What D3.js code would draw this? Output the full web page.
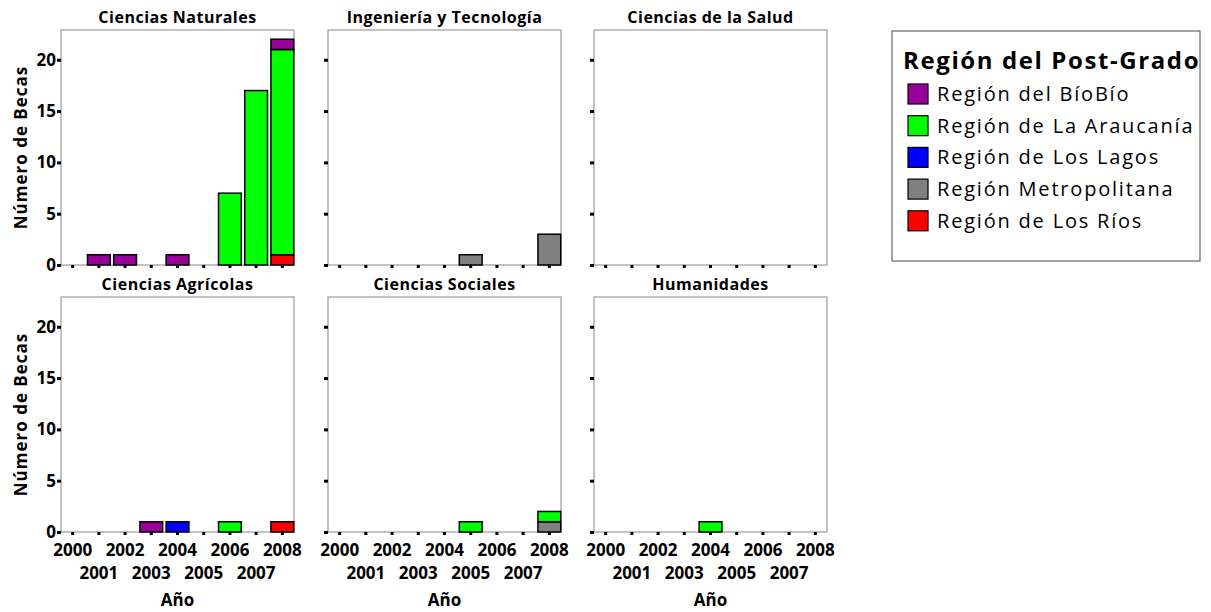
<!DOCTYPE html>
<html><head><meta charset="utf-8">
<script src="https://cdn.jsdelivr.net/npm/d3@7"></script>
<style>
body{margin:0;background:#fff;}
text{font-family:"Open Sans",sans-serif;fill:#000;}
</style></head>
<body><svg id="c" width="1211" height="612"></svg>
<script>
const years = [2000, 2001, 2002, 2003, 2004, 2005, 2006, 2007, 2008];
const regions = ["Región del BíoBío", "Región de La Araucanía", "Región de Los Lagos", "Región Metropolitana", "Región de Los Ríos"];
const regionColors = ["#990099", "#00ff00", "#0000ff", "#808080", "#ff0000"];
const panelTitles = ["Ciencias Naturales", "Ingeniería y Tecnología", "Ciencias de la Salud", "Ciencias Agrícolas", "Ciencias Sociales", "Humanidades"];
const yTicks = [0, 5, 10, 15, 20];
// values per region (rows, legend order) by year (columns)
const naturales   = [[0,1,1,0,1,0,0,0,1],[0,0,0,0,0,0,7,17,20],[0,0,0,0,0,0,0,0,0],[0,0,0,0,0,0,0,0,0],[0,0,0,0,0,0,0,0,1]];
const ingenieria  = [[0,0,0,0,0,0,0,0,0],[0,0,0,0,0,0,0,0,0],[0,0,0,0,0,0,0,0,0],[0,0,0,0,0,1,0,0,3],[0,0,0,0,0,0,0,0,0]];
const salud       = [[0,0,0,0,0,0,0,0,0],[0,0,0,0,0,0,0,0,0],[0,0,0,0,0,0,0,0,0],[0,0,0,0,0,0,0,0,0],[0,0,0,0,0,0,0,0,0]];
const agricolas   = [[0,0,0,1,0,0,0,0,0],[0,0,0,0,0,0,1,0,0],[0,0,0,0,1,0,0,0,0],[0,0,0,0,0,0,0,0,0],[0,0,0,0,0,0,0,0,1]];
const sociales    = [[0,0,0,0,0,0,0,0,0],[0,0,0,0,0,1,0,0,1],[0,0,0,0,0,0,0,0,0],[0,0,0,0,0,0,0,0,1],[0,0,0,0,0,0,0,0,0]];
const humanidades = [[0,0,0,0,0,0,0,0,0],[0,0,0,0,1,0,0,0,0],[0,0,0,0,0,0,0,0,0],[0,0,0,0,0,0,0,0,0],[0,0,0,0,0,0,0,0,0]];
const panelData = [naturales, ingenieria, salud, agricolas, sociales, humanidades];

const svg = d3.select("#c");
const lefts = [61, 328, 594], tops = [30, 297], pw = 233, ph = 235;
const x = d3.scaleBand().domain(years).range([0, pw]).paddingInner(0.13).paddingOuter(0.01);
const y = d3.scaleLinear().domain([0, 22.9]).range([ph, 0]);
const color = d3.scaleOrdinal().domain(regions).range(regionColors);
const stackKeys = regions.slice().reverse();

panelData.forEach((vals, i) => {
  const col = i % 3, row = Math.floor(i / 3);
  const g = svg.append("g").attr("transform", `translate(${lefts[col]},${tops[row]})`);
  const rows = years.map((yr, j) => { const o = {year: yr}; regions.forEach((r, k) => o[r] = vals[k][j]); return o; });
  const series = d3.stack().keys(stackKeys)(rows);
  g.append("rect").attr("width", pw).attr("height", ph).attr("fill", "none").attr("stroke", "#999").attr("stroke-width", 1.2);
  series.forEach(s => {
    g.selectAll(null).data(s.filter(d => d[1] - d[0] > 0)).enter().append("rect")
      .attr("x", d => x(d.data.year)).attr("width", x.bandwidth())
      .attr("y", d => y(d[1])).attr("height", d => y(d[0]) - y(d[1]))
      .attr("fill", color(s.key)).attr("stroke", "#000").attr("stroke-width", 1.5);
  });
  const ya = g.append("g").call(d3.axisLeft(y).tickValues(yTicks).tickSize(4).tickFormat(col === 0 ? d3.format("d") : ""));
  ya.select(".domain").remove();
  ya.selectAll(".tick line").attr("stroke", "#000").attr("stroke-width", 3);
  ya.selectAll(".tick text").attr("x", -5).style("font-size", "17px").style("font-weight", "bold").style("font-family", "Open Sans");
  const xa = g.append("g").attr("transform", `translate(0,${ph})`).call(d3.axisBottom(x).tickSize(3).tickFormat(""));
  xa.select(".domain").remove();
  xa.selectAll(".tick line").attr("stroke", "#000").attr("stroke-width", 3);
  if (row === 1) {
    g.selectAll(".yl").data(years).enter().append("text")
      .attr("x", d => x(d) + x.bandwidth() / 2)
      .attr("y", (d, j) => ph + (j % 2 === 0 ? 24 : 47))
      .attr("text-anchor", "middle").style("font-size", "17px").style("font-weight", "bold").text(d => d);
    g.append("text").attr("x", pw / 2).attr("y", ph + 74).attr("text-anchor", "middle")
      .style("font-size", "17px").style("font-weight", "bold").text("Año");
  }
  if (col === 0) {
    g.append("text").attr("transform", `translate(-34,${ph / 2}) rotate(-90)`).attr("text-anchor", "middle")
      .style("font-size", "17px").style("font-weight", "bold").style("letter-spacing", "1px").text("Número de Becas");
  }
  g.append("text").attr("x", pw / 2).attr("y", -7).attr("text-anchor", "middle")
    .style("font-size", "16px").style("font-weight", "bold").style("letter-spacing", "0.5px").text(panelTitles[i]);
});

const lg = svg.append("g").attr("transform", "translate(892,31)");
lg.append("rect").attr("width", 308).attr("height", 230).attr("fill", "#fff").attr("stroke", "#666").attr("stroke-width", 1.2);
lg.append("text").attr("x", 11).attr("y", 38).style("font-size", "24px").style("font-weight", "bold").style("letter-spacing", "1.6px").text("Región del Post-Grado");
const items = lg.selectAll(".li").data(regions).enter().append("g").attr("transform", (d, i) => `translate(16,${53 + i * 31.7})`);
items.append("rect").attr("width", 20).attr("height", 20).attr("fill", d => color(d)).attr("stroke", "#000").attr("stroke-width", 1.2);
items.append("text").attr("x", 29).attr("y", 17).style("font-size", "20px").style("letter-spacing", "1.8px").text(d => d);
</script></body></html>
